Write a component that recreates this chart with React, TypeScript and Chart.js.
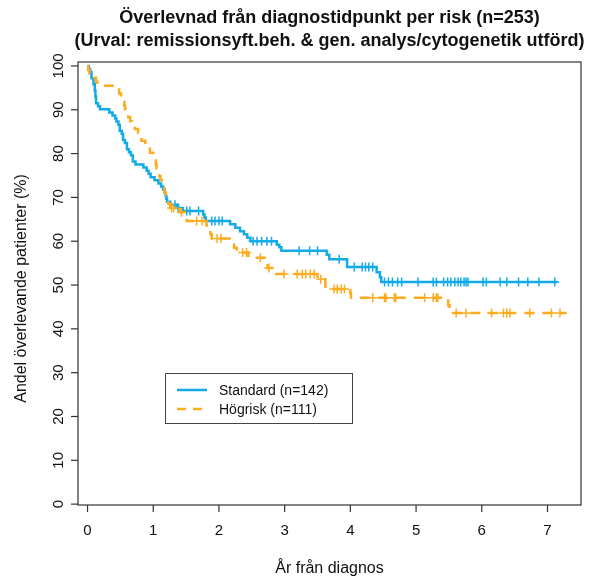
import { useEffect, useRef } from 'react';
import { Chart, registerables } from 'chart.js';

Chart.register(...registerables);

const titleLines = [
  'Överlevnad från diagnostidpunkt per risk (n=253)',
  '(Urval: remissionsyft.beh. & gen. analys/cytogenetik utförd)',
];
const xTitle = 'År från diagnos';
const yTitle = 'Andel överlevande patienter (%)';
const xTicks = [0, 1, 2, 3, 4, 5, 6, 7];
const yTicks = [0, 10, 20, 30, 40, 50, 60, 70, 80, 90, 100];

const seriesNames = ['Standard (n=142)', 'Högrisk (n=111)'];
const seriesColors = ['#12ABE8', '#FDAB1F'];

// Standard: event times (years) and survival (%) after each step
const standardTimes = [
  0, 0.02, 0.04, 0.06, 0.09, 0.11, 0.12, 0.13, 0.16, 0.19, 0.33, 0.38, 0.42, 0.44, 0.47, 0.49,
  0.52, 0.54, 0.57, 0.6, 0.63, 0.66, 0.69, 0.73, 0.85, 0.9, 0.93, 0.96, 1.02, 1.08, 1.12, 1.15,
  1.17, 1.19, 1.2, 1.21, 1.26, 1.36, 1.45, 1.76, 1.78, 1.8, 2.17, 2.25, 2.32, 2.38, 2.43, 2.48,
  2.88, 2.92, 2.95, 3.64, 3.68, 3.95, 4.4, 4.45, 4.47, 7.15,
];
const standardSurv = [
  100, 99.3, 98.6, 97.2, 95.8, 94.4, 93.0, 91.5, 90.8, 90.1, 89.4, 88.7, 88.0, 87.3, 86.6, 85.2,
  84.5, 83.1, 82.4, 81.0, 80.3, 79.6, 78.2, 77.5, 76.8, 76.1, 75.4, 74.6, 73.9, 73.2, 72.5, 71.8,
  71.1, 70.4, 69.7, 69.0, 68.3, 67.6, 66.9, 66.1, 65.4, 64.6, 63.9, 63.1, 62.3, 61.6, 60.8, 60.0,
  59.2, 58.6, 57.8, 56.9, 55.9, 54.1, 52.9, 51.8, 50.7, 50.7,
];
const standardCensored = [
  1.33, 1.38, 1.51, 1.56, 1.69, 1.89, 1.94, 2.0, 2.05, 2.52, 2.58, 2.65, 2.73, 2.8, 3.22, 3.38,
  3.5, 3.83, 4.06, 4.18, 4.23, 4.28, 4.34, 4.52, 4.58, 4.64, 4.72, 4.78, 5.03, 5.26, 5.31, 5.42,
  5.48, 5.53, 5.59, 5.64, 5.68, 5.73, 5.76, 5.79, 6.02, 6.07, 6.28, 6.38, 6.56, 6.7, 6.87, 7.11,
];

// Högrisk: event times (years) and survival (%) after each step
const highRiskTimes = [
  0, 0.01, 0.03, 0.1, 0.13, 0.15, 0.46, 0.48, 0.51, 0.55, 0.56, 0.57, 0.58, 0.62, 0.65, 0.68,
  0.72, 0.77, 0.8, 0.82, 0.88, 0.92, 0.95, 1.0, 1.02, 1.04, 1.05, 1.07, 1.09, 1.11, 1.13, 1.15,
  1.17, 1.19, 1.21, 1.23, 1.26, 1.4, 1.48, 1.51, 1.81, 1.84, 1.87, 1.89, 2.2, 2.23, 2.27, 2.45,
  2.7, 2.74, 2.87, 3.5, 3.62, 4.0, 4.01, 5.49, 5.51, 7.29,
];
const highRiskSurv = [
  100, 99.1, 98.2, 97.3, 96.4, 95.5, 94.6, 93.7, 92.8, 91.9, 91.0, 90.1, 89.2, 88.3, 87.4, 86.5,
  85.6, 84.7, 83.8, 82.9, 82.0, 81.1, 80.2, 79.3, 78.4, 77.5, 76.6, 75.7, 74.8, 73.9, 73.0, 72.1,
  71.2, 70.3, 69.4, 68.5, 67.6, 66.6, 65.6, 64.6, 63.6, 62.6, 61.6, 60.6, 59.6, 58.5, 57.4, 56.2,
  55.1, 53.9, 52.5, 51.3, 49.1, 48.1, 47.1, 45.4, 43.6, 43.6,
];
const highRiskCensored = [
  1.28, 1.31, 1.43, 1.66, 1.74, 1.97, 2.03, 2.36, 2.42, 2.63, 2.76, 2.99, 3.19, 3.27, 3.32, 3.39,
  3.45, 3.55, 3.75, 3.8, 3.86, 3.91, 4.34, 4.52, 4.54, 4.67, 4.69, 5.13, 5.26, 5.31, 5.33, 5.61,
  5.76, 6.15, 6.33, 6.38, 6.43, 6.73, 7.06, 7.19,
];

const FONT = '"Liberation Sans", Arial, Helvetica, sans-serif';

function survivalAt(times: number[], surv: number[], t: number): number {
  let s = surv[0];
  for (let i = 0; i < times.length; i++) {
    if (times[i] <= t) s = surv[i];
  }
  return s;
}

function curvePoints(times: number[], surv: number[]) {
  return times.map((t, i) => ({ x: t, y: surv[i] }));
}

function censorPoints(times: number[], surv: number[], censored: number[]) {
  return censored.map((t) => ({ x: t, y: survivalAt(times, surv, t) }));
}

const frame = {
  id: 'kmFrame',
  afterDraw(chart: any) {
    const { ctx, chartArea, scales } = chart;
    const xs = scales.x;
    const ys = scales.y;
    const { left, right, top, bottom } = chartArea;
    ctx.save();
    ctx.strokeStyle = '#333';
    ctx.lineWidth = 1.2;
    ctx.strokeRect(left, top, right - left, bottom - top);

    ctx.fillStyle = '#111';
    ctx.font = `15px ${FONT}`;
    // x ticks
    ctx.textAlign = 'center';
    ctx.textBaseline = 'middle';
    xTicks.forEach((v) => {
      const px = xs.getPixelForValue(v);
      ctx.beginPath();
      ctx.moveTo(px, bottom);
      ctx.lineTo(px, bottom + 7);
      ctx.stroke();
      ctx.fillText(String(v), px, bottom + 26);
    });
    // y ticks (labels rotated)
    yTicks.forEach((v) => {
      const py = ys.getPixelForValue(v);
      ctx.beginPath();
      ctx.moveTo(left, py);
      ctx.lineTo(left - 7, py);
      ctx.stroke();
      ctx.save();
      ctx.translate(left - 19, py);
      ctx.rotate(-Math.PI / 2);
      ctx.fillText(String(v), 0, 0);
      ctx.restore();
    });

    // axis titles
    ctx.font = `16px ${FONT}`;
    ctx.fillText(xTitle, (left + right) / 2, 569);
    ctx.save();
    ctx.translate(22, (top + bottom) / 2 + 5);
    ctx.rotate(-Math.PI / 2);
    ctx.fillText(yTitle, 0, 0);
    ctx.restore();

    // title
    ctx.font = `bold 18px ${FONT}`;
    ctx.fillText(titleLines[0], (left + right) / 2, 18);
    ctx.fillText(titleLines[1], (left + right) / 2, 41);

    // legend
    const lx = 165;
    const ly = 373;
    ctx.strokeStyle = '#444';
    ctx.lineWidth = 1;
    ctx.fillStyle = '#fff';
    ctx.fillRect(lx, ly, 187, 50);
    ctx.strokeRect(lx + 0.5, ly + 0.5, 187, 50);
    ctx.font = `14px ${FONT}`;
    ctx.textAlign = 'left';
    seriesNames.forEach((name, i) => {
      const y = ly + 17 + i * 19;
      ctx.strokeStyle = seriesColors[i];
      ctx.lineWidth = 2.5;
      ctx.setLineDash(i === 1 ? [9, 7] : []);
      ctx.beginPath();
      ctx.moveTo(lx + 12, y);
      ctx.lineTo(lx + 42, y);
      ctx.stroke();
      ctx.setLineDash([]);
      ctx.fillStyle = '#111';
      ctx.fillText(name, lx + 54, y + 1);
    });
    ctx.restore();
  },
};

export default function App() {
  const canvasRef = useRef<HTMLCanvasElement | null>(null);

  useEffect(() => {
    if (!canvasRef.current) return;
    const chart = new Chart(canvasRef.current, {
      type: 'line',
      data: {
        datasets: [
          {
            label: seriesNames[1],
            data: curvePoints(highRiskTimes, highRiskSurv),
            borderColor: seriesColors[1],
            borderWidth: 2.5,
            borderDash: [10, 8],
            stepped: 'before',
            pointRadius: 0,
            fill: false,
            order: 1,
          },
          {
            label: 'Högrisk censur',
            data: censorPoints(highRiskTimes, highRiskSurv, highRiskCensored),
            borderColor: seriesColors[1],
            backgroundColor: seriesColors[1],
            showLine: false,
            pointStyle: 'cross',
            pointRadius: 4.5,
            pointBorderWidth: 1.5,
            order: 0,
          },
          {
            label: seriesNames[0],
            data: curvePoints(standardTimes, standardSurv),
            borderColor: seriesColors[0],
            borderWidth: 2.5,
            stepped: 'before',
            pointRadius: 0,
            fill: false,
            order: 3,
          },
          {
            label: 'Standard censur',
            data: censorPoints(standardTimes, standardSurv, standardCensored),
            borderColor: seriesColors[0],
            backgroundColor: seriesColors[0],
            showLine: false,
            pointStyle: 'cross',
            pointRadius: 4.5,
            pointBorderWidth: 1.5,
            order: 2,
          },
        ],
      },
      options: {
        animation: false,
        responsive: false,
        maintainAspectRatio: false,
        layout: { padding: { left: 78, right: 14, top: 62, bottom: 76 } },
        scales: {
          x: { type: 'linear', min: -0.145, max: 7.51, display: false },
          y: { type: 'linear', min: -0.2, max: 100.9, display: false },
        },
        plugins: {
          legend: { display: false },
          tooltip: { enabled: false },
          title: { display: false },
        },
      },
      plugins: [frame],
    });
    return () => chart.destroy();
  }, []);

  return (
    <div style={{ position: 'absolute', left: 0, top: 0, width: 595, height: 581, background: '#fff' }}>
      <canvas ref={canvasRef} width={595} height={581} style={{ display: 'block' }} />
    </div>
  );
}
